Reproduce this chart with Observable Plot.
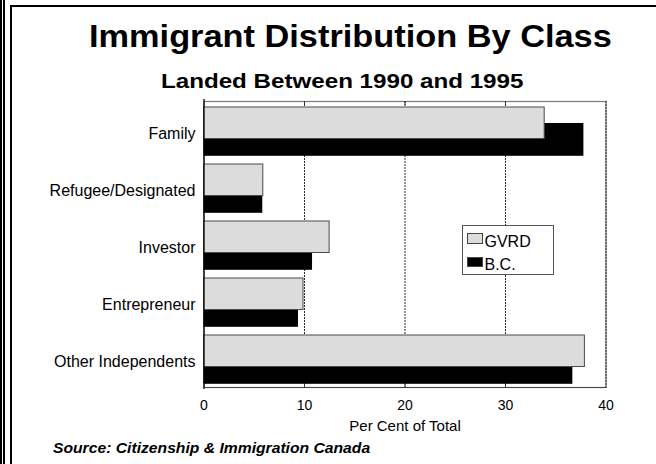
<!DOCTYPE html>
<html>
<head>
<meta charset="utf-8">
<script src="https://cdn.jsdelivr.net/npm/d3@7"></script>
<script src="https://cdn.jsdelivr.net/npm/@observablehq/plot@0.6"></script>
<style>
  html, body { margin: 0; padding: 0; background: #fff; }
  body { font-family: "Liberation Sans", Arial, Helvetica, sans-serif; color: #000; }
  #wrap { position: relative; width: 656px; height: 464px; overflow: hidden; background: #fff; }
  #chart { position: absolute; left: 0; top: 0; }
  .line { position: absolute; background: #000; }
  .txt { position: absolute; white-space: nowrap; line-height: 1; transform-origin: left top; }
  #title { left: 89px; top: 19.6px; font-size: 32px; font-weight: bold; transform: scaleX(1.073); }
  #subtitle { left: 161px; top: 69.5px; font-size: 21px; font-weight: bold; transform: scaleX(1.15); }
  #source { left: 53px; top: 441.4px; font-size: 14px; font-weight: bold; font-style: italic; transform: scaleX(1.12); }
  #legend { position: absolute; left: 461.5px; top: 225px; width: 90px; height: 47.5px; border: 1px solid #555; background: #fff; }
  .sw { position: absolute; left: 4.5px; width: 14px; height: 8.5px; border: 1px solid #444; }
  .lt { position: absolute; left: 22px; font-size: 16px; line-height: 1; white-space: nowrap; }
</style>
</head>
<body>
<div id="wrap">
  <div id="chart"></div>
  <div class="line" style="left:0;top:0;width:1.5px;height:464px"></div>
  <div class="line" style="left:3px;top:0;width:1.5px;height:464px"></div>
  <div class="line" style="left:10px;top:5px;width:1.5px;height:459px"></div>
  <div class="line" style="left:10px;top:5px;width:646px;height:1.5px"></div>
  <div id="title" class="txt">Immigrant Distribution By Class</div>
  <div id="subtitle" class="txt">Landed Between 1990 and 1995</div>
  <div id="legend"></div>
  <div id="source" class="txt">Source: Citizenship &amp; Immigration Canada</div>
</div>
<script>
// ---- data ----
const categories = ["Family", "Refugee/Designated", "Investor", "Entrepreneur", "Other Independents"];
const gvrd = [33.9, 5.9, 12.5, 9.9, 37.9];
const bc = [37.8, 5.85, 10.8, 9.4, 36.7];
const xTicks = [0, 10, 20, 30, 40];
const gridTicks = [10, 20, 30, 40];
const innerTicks = [10, 20, 30];
const seriesNames = ["GVRD", "B.C."];
const seriesColors = ["#dcdcdc", "#000000"];
const axisTitle = "Per Cent of Total";

const gvrdRows = categories.map((c, i) => ({category: c, value: gvrd[i]}));
const bcRows = categories.map((c, i) => ({category: c, value: bc[i]}));

const plotH = 464 - 101 - 77;

const svg = Plot.plot({
  width: 656,
  height: 464,
  marginLeft: 203.5,
  marginRight: 50.5,
  marginTop: 101,
  marginBottom: 77,
  style: {fontFamily: '"Liberation Sans", Arial, Helvetica, sans-serif', fontSize: "16px", color: "#000", background: "transparent"},
  x: {domain: [0, 40]},
  y: {domain: categories, padding: 0},
  marks: [
    Plot.frame({stroke: "#7a7a7a", strokeWidth: 1.2}),
    Plot.ruleX(gridTicks, {stroke: "#2a2a2a", strokeWidth: 1, strokeDasharray: "2,1"}),
    Plot.ruleX(innerTicks, {stroke: "#333", strokeWidth: 1, insetBottom: plotH - 4}),
    Plot.ruleX(innerTicks, {stroke: "#333", strokeWidth: 1, insetTop: plotH - 4}),
    Plot.barX(bcRows, {x: "value", y: "category", fill: seriesColors[1], insetTop: 21, insetBottom: 3.2}),
    Plot.barX(gvrdRows, {x: "value", y: "category", fill: seriesColors[0], stroke: "#4a4a4a", strokeWidth: 1, insetTop: 5, insetBottom: 20.5}),
    Plot.ruleX([0], {stroke: "#000", strokeWidth: 1.3, insetTop: -2, insetBottom: -2}),
    Plot.frame({anchor: "bottom", stroke: "#444", strokeWidth: 1.2}),
    Plot.axisX({ticks: xTicks, tickSize: 0, tickPadding: 13, fontSize: 14, label: null}),
    Plot.axisY({tickSize: 0, tickPadding: 8.5, fontSize: 16, dy: 3, label: null}),
    Plot.text([axisTitle], {frameAnchor: "bottom", dy: 43, fontSize: 15, fill: "#000"})
  ]
});
document.getElementById("chart").appendChild(svg);

// legend
const legend = document.getElementById("legend");
seriesNames.forEach((name, i) => {
  const sw = document.createElement("div");
  sw.className = "sw";
  sw.style.top = (7 + i * 23.5) + "px";
  sw.style.background = seriesColors[i];
  legend.appendChild(sw);
  const t = document.createElement("div");
  t.className = "lt";
  t.style.top = (7.5 + i * 23.5) + "px";
  t.textContent = name;
  legend.appendChild(t);
});
</script>
</body>
</html>
